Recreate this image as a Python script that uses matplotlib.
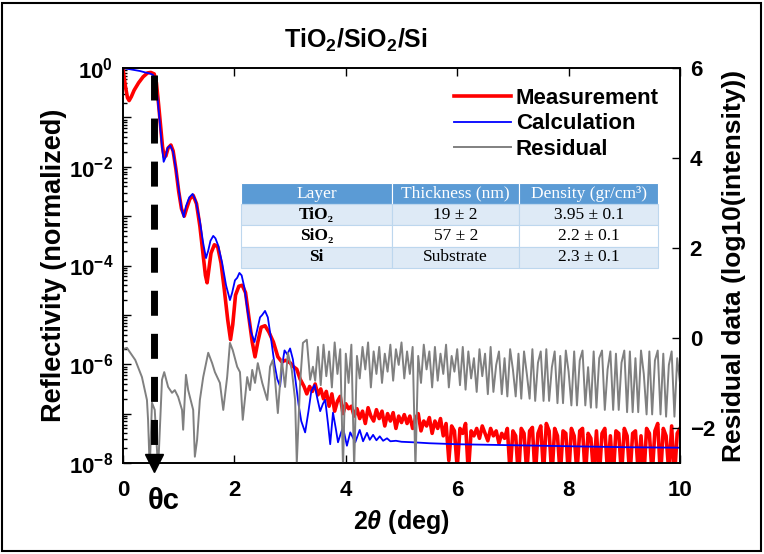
import numpy as np
import matplotlib.pyplot as plt
from matplotlib.patches import Rectangle
from matplotlib.ticker import FixedLocator, LogLocator, FuncFormatter, NullFormatter

plt.rcParams['font.family'] = 'Liberation Sans'
plt.rcParams['font.weight'] = 'bold'
plt.rcParams['mathtext.fontset'] = 'custom'
plt.rcParams['mathtext.rm'] = 'Liberation Sans:bold'
plt.rcParams['mathtext.bf'] = 'Liberation Sans:bold'
plt.rcParams['mathtext.it'] = 'Liberation Sans:italic:bold'
plt.rcParams['mathtext.default'] = 'bf'

# measured reflectivity, log10 of normalized intensity
meas_x = [0.00, 0.04, 0.08, 0.11, 0.15, 0.20, 0.28, 0.36, 0.44, 0.50, 0.56, 0.60,
          0.64, 0.68, 0.71, 0.74, 0.77, 0.81, 0.86, 0.90, 0.95, 1.00, 1.05, 1.10,
          1.14, 1.20, 1.26, 1.32, 1.38, 1.44, 1.48, 1.51, 1.54, 1.58, 1.64, 1.70,
          1.76, 1.82, 1.88, 1.93, 1.97, 2.02, 2.08, 2.14, 2.20, 2.26, 2.32, 2.37,
          2.42, 2.48, 2.55, 2.62, 2.70, 2.78, 2.85, 2.92, 3.00, 3.06, 3.12, 3.18, 3.25]
meas_log = [-0.02, -0.35, -0.60, -0.66, -0.58, -0.45, -0.30, -0.18, -0.10, -0.09, -0.12, -0.30,
            -0.75, -1.25, -1.60, -1.80, -1.78, -1.62, -1.56, -1.68, -2.05, -2.50, -2.85, -3.00,
            -2.85, -2.65, -2.58, -2.75, -3.20, -3.80, -4.20, -4.35, -4.10, -3.75, -3.58, -3.62,
            -3.95, -4.50, -5.10, -5.50, -5.20, -4.60, -4.42, -4.40, -4.55, -5.05, -5.55, -5.85,
            -5.55, -5.25, -5.22, -5.35, -5.55, -5.85, -5.95, -5.92, -5.97, -6.05, -6.10, -6.30, -6.45]
# noisy tail of the measurement, from 2theta = 3.30 to 10
meas_tail = [-6.60, -6.45, -6.55, -6.40, -6.62, -6.50,
             -6.70, -6.55, -6.85, -6.60, -6.95, -6.75, -6.65, -7.00, -6.80, -6.90,
             -6.85, -7.05, -6.90, -7.10, -6.95, -7.20, -6.88, -7.05, -7.15, -6.92,
             -7.10, -6.95, -7.25, -7.00, -7.15, -6.98, -7.30, -7.05, -7.18, -7.02,
             -7.20, -7.05, -7.30, -7.10, -7.00, -7.35, -7.15, -7.25, -7.08, -7.40,
             -7.15, -7.30, -7.10, -7.45, -7.20, -7.95, -7.25, -7.35, -8.10, -7.30,
             -7.40, -7.20, -8.20, -7.35, -7.45, -7.30, -7.50, -7.25, -7.40, -7.55,
             -7.30, -7.45, -7.35, -7.60, -7.40, -7.50, -7.30, -8.20, -7.35, -7.45,
             -8.30, -7.30, -7.40, -8.20, -7.35, -7.28, -8.30, -7.40, -7.25, -8.20,
             -7.20, -7.35, -8.30, -7.30, -7.45, -8.25, -7.35, -7.40, -8.30, -7.30,
             -7.45, -8.20, -7.35, -7.30, -8.30, -7.40, -7.50, -8.25, -7.35, -8.30,
             -7.40, -7.30, -8.20, -7.45, -8.30, -7.35, -7.40, -8.25, -7.30, -7.45,
             -8.30, -7.40, -7.35, -8.20, -7.45, -8.30, -7.30, -7.40, -8.25, -7.35,
             -7.20, -8.30, -7.30, -7.45, -8.20, -7.25, -8.30, -7.40, -7.30]

# fitted model
calc_x = [0.00, 0.10, 0.20, 0.30, 0.40, 0.48, 0.54, 0.58, 0.62, 0.66, 0.70, 0.73,
          0.76, 0.80, 0.85, 0.90, 0.95, 1.00, 1.05, 1.09, 1.13, 1.19, 1.25, 1.31,
          1.38, 1.44, 1.49, 1.53, 1.57, 1.62, 1.66, 1.71, 1.78, 1.85, 1.92, 1.96,
          2.01, 2.05, 2.09, 2.13, 2.18, 2.24, 2.30, 2.36, 2.41, 2.46, 2.50, 2.55,
          2.60, 2.66, 2.72, 2.77, 2.82, 2.86, 2.90, 2.95, 3.00, 3.05, 3.10, 3.15,
          3.20, 3.27, 3.33, 3.38, 3.44, 3.49, 3.54, 3.59, 3.63, 3.68, 3.72, 3.77,
          3.82, 3.86, 3.91, 3.95, 4.02, 4.08, 4.17, 4.25, 4.31, 4.38, 4.43, 4.49,
          4.55, 4.61, 4.67, 4.74, 4.80, 4.90, 5.00, 5.20, 5.50, 6.00, 7.00, 8.00,
          9.00, 10.00]
calc_log = [0.00, -0.02, -0.04, -0.06, -0.09, -0.11, -0.14, -0.25, -0.60, -1.10, -1.60, -1.90,
            -1.82, -1.62, -1.57, -1.70, -2.05, -2.45, -2.85, -3.02, -2.80, -2.62, -2.55, -2.70,
            -3.10, -3.55, -3.85, -3.70, -3.50, -3.40, -3.45, -3.60, -3.95, -4.40, -4.70, -4.55,
            -4.30, -4.25, -4.15, -4.20, -4.45, -4.95, -5.35, -5.55, -5.30, -5.05, -5.00, -4.92,
            -5.05, -5.50, -6.00, -6.30, -6.45, -6.00, -5.72, -5.80, -5.68, -5.90, -6.35, -6.80,
            -7.15, -7.38, -6.95, -6.55, -6.42, -6.70, -6.95, -6.80, -6.72, -7.20, -7.62, -6.98,
            -7.30, -7.58, -7.40, -7.28, -7.65, -7.38, -7.58, -7.33, -7.56, -7.39, -7.53, -7.43,
            -7.54, -7.46, -7.55, -7.50, -7.56, -7.55, -7.57, -7.58, -7.60, -7.62, -7.64, -7.66,
            -7.68, -7.69]

# residual, log10(intensity)
res_x = [0.00, 0.07, 0.22, 0.34, 0.43, 0.45, 0.48, 0.52, 0.57, 0.63, 0.70, 0.74,
         0.81, 0.88, 0.93, 0.99, 1.06, 1.08, 1.13, 1.17, 1.26, 1.29, 1.33, 1.38,
         1.44, 1.53, 1.60, 1.65, 1.74, 1.80, 1.87, 1.92, 1.97, 2.05, 2.10, 2.15,
         2.23, 2.28, 2.32, 2.37, 2.42, 2.50, 2.59, 2.64, 2.69, 2.73, 2.78, 2.85,
         2.91, 2.96, 3.03, 3.09, 3.12, 3.18, 3.23, 3.30, 3.36, 3.41]
res_val = [-0.25, -0.22, -0.49, -0.87, -1.38, -1.82, -2.93, -1.44, -1.60, -2.93, -0.93, -0.76,
           -1.09, -1.22, -1.16, -1.31, -1.60, -2.04, -0.82, -1.16, -1.60, -2.64, -2.27, -1.38,
           -0.87, -0.33, -0.56, -0.76, -1.00, -1.60, -0.87, -0.11, -0.27, -0.64, -0.76, -1.82,
           -0.87, -1.16, -0.71, -1.00, -0.56, -1.00, -1.38, -0.64, -0.49, -0.93, -1.67, -0.49,
           -1.09, -0.33, -0.71, -1.38, -2.78, -1.00, -0.11, -0.04, -0.93, -0.64]
# noisy tail of the residual, from 2theta = 3.45 to 10
res_tail = [-0.95, -0.20, -1.05, -0.15, -0.85, -0.30,
            -1.10, -0.10, -0.80, -0.25, -2.90, -0.35, -1.00, -0.15, -2.90, -0.40,
            -0.90, -0.20, -0.70, -0.10, -1.10, -0.30, -0.80, -0.20, -1.00, -0.35,
            -0.75, -0.15, -0.95, -0.25, -0.60, -0.10, -0.90, -0.30, -0.80, -0.20,
            -2.90, -0.40, -1.00, -0.15, -0.70, -0.30, -1.10, -0.20, -0.95, -0.35,
            -0.80, -0.15, -1.10, -0.40, -0.75, -0.25, -1.05, -0.20, -1.15, -0.30,
            -0.90, -0.45, -1.20, -0.25, -0.85, -0.35, -1.25, -0.20, -1.20, -0.60,
            -0.30, -1.25, -0.45, -1.30, -0.25, -0.70, -1.30, -0.35, -1.35, -0.30,
            -0.80, -1.35, -0.25, -1.40, -0.55, -0.30, -1.40, -0.25, -1.40, -0.65,
            -0.30, -1.45, -0.40, -1.45, -0.28, -0.75, -1.50, -0.30, -1.50, -0.50,
            -0.28, -1.50, -0.65, -1.55, -0.30, -1.55, -0.45, -0.28, -1.60, -0.70,
            -0.30, -1.60, -0.35, -1.60, -0.55, -0.28, -1.65, -0.30, -1.65, -0.45,
            -1.65, -0.28, -0.80, -1.70, -0.30, -1.70, -0.50, -0.28, -1.70, -0.35,
            -1.75, -0.60, -0.30, -1.75, -0.45, -1.00]

theta_c = 0.56

# fitted layer parameters
table_head = ['Layer', 'Thickness (nm)', 'Density (gr/cm\u00b3)']
layers = ['TiO\u2082', 'SiO\u2082', 'Si']
thickness = ['19 \u00b1 2', '57 \u00b1 2', 'Substrate']
density = ['3.95 \u00b1 0.1', '2.2 \u00b1 0.1', '2.3 \u00b1 0.1']

mx = np.concatenate([meas_x, np.linspace(3.30, 10.0, len(meas_tail))])
my = 10.0 ** np.concatenate([meas_log, meas_tail])
cx = np.array(calc_x)
cy = 10.0 ** np.array(calc_log)
rx = np.concatenate([res_x, np.linspace(3.45, 10.0, len(res_tail))])
ry = np.concatenate([res_val, res_tail])

fig = plt.figure(figsize=(7.64, 5.54), dpi=100)
ax = fig.add_axes([123 / 764, 91 / 554, 557 / 764, 395 / 554])
ax2 = ax.twinx()

l1, = ax.plot(mx, my, color='#ff0000', lw=2.6)
l2, = ax.plot(cx, cy, color='#0000ff', lw=1.3)
l3, = ax2.plot(rx, ry, color='#808080', lw=1.4)

ax.set_yscale('log')
ax.set_xlim(0, 10)
ax.set_ylim(1e-8, 1)
ax2.set_ylim(-2.78, 6)

ax.yaxis.set_major_locator(FixedLocator(10.0 ** np.arange(-8, 1)))
ax.yaxis.set_major_formatter(FuncFormatter(
    lambda v, p: '$10^{%d}$' % round(np.log10(v)) if round(np.log10(v)) % 2 == 0 else ''))
ax.yaxis.set_minor_locator(LogLocator(base=10, subs=np.arange(2, 10), numticks=20))
ax.yaxis.set_minor_formatter(NullFormatter())
ax.set_xticks([0, 2, 4, 6, 8, 10])
ax2.set_yticks([-2, 0, 2, 4, 6])

ax.tick_params(which='both', direction='in', top=True, labelsize=16, width=1)
ax.tick_params(which='major', length=6)
ax.tick_params(which='minor', length=3)
ax.tick_params(axis='x', pad=12)
ax.tick_params(axis='y', pad=7)
ax2.tick_params(direction='in', length=6, width=1, labelsize=16, pad=7)
for a in (ax, ax2):
    for s in a.spines.values():
        s.set_linewidth(1.2)

ax.set_xlabel(r'2$\mathit{\theta}$ (deg)', fontsize=18, fontweight='bold', labelpad=5)
ax.set_ylabel('Reflectivity (normalized)', fontsize=19.5, fontweight='bold', labelpad=1)
ax2.set_ylabel('Residual data (log10(intensity))', fontsize=19, fontweight='bold', labelpad=5)
fig.text(356 / 764, 1 - 40 / 554, r'TiO$_2$/SiO$_2$/Si', fontsize=18,
         fontweight='bold', ha='center', va='center')

# critical angle marker
ax2.plot([theta_c, theta_c], [0.72, 1.4e-8], transform=ax.transData, color='black',
         lw=5, linestyle=(0, (3.6, 2.6)), zorder=6)
ax2.plot([theta_c], [1e-8], transform=ax.transData, marker='v', ms=13,
         color='black', clip_on=False, zorder=6)
ax2.set_ylim(-2.78, 6)
fig.text(164 / 764, 1 - 501 / 554, '\u03b8c', fontsize=21, fontweight='bold',
         ha='center', va='center')

ax2.legend([l1, l2, l3], ['Measurement', 'Calculation', 'Residual'],
           loc='upper right', bbox_to_anchor=(0.998, 1.0), frameon=False,
           fontsize=16, handlelength=2.6, handletextpad=0.2, labelspacing=0.2)

rows = [[layers[i], thickness[i], density[i]] for i in range(len(layers))]
tab = ax2.table(cellText=rows, colLabels=table_head, cellLoc='center',
                colWidths=[0.362, 0.305, 0.333],
                bbox=[0.212, 0.494, 0.749, 0.215])
tab.auto_set_font_size(False)
for (r, c), cell in tab.get_celld().items():
    cell.set_edgecolor('#bdd7ee')
    cell.set_linewidth(0.8)
    txt = cell.get_text()
    txt.set_fontfamily('Liberation Serif')
    txt.set_fontsize(12.5)
    txt.set_fontweight('bold' if (c == 0 and r > 0) else 'normal')
    if r == 0:
        cell.set_facecolor('#5b9bd5')
        txt.set_color('white')
        cell.set_edgecolor('#ffffff')
    elif r % 2 == 1:
        cell.set_facecolor('#deeaf6')
    else:
        cell.set_facecolor('white')

fig.patches.append(Rectangle((0.003, 0.006), 0.993, 0.988, transform=fig.transFigure,
                             fill=False, lw=1.5, ec='black'))

fig.savefig('out.png', dpi=100)
